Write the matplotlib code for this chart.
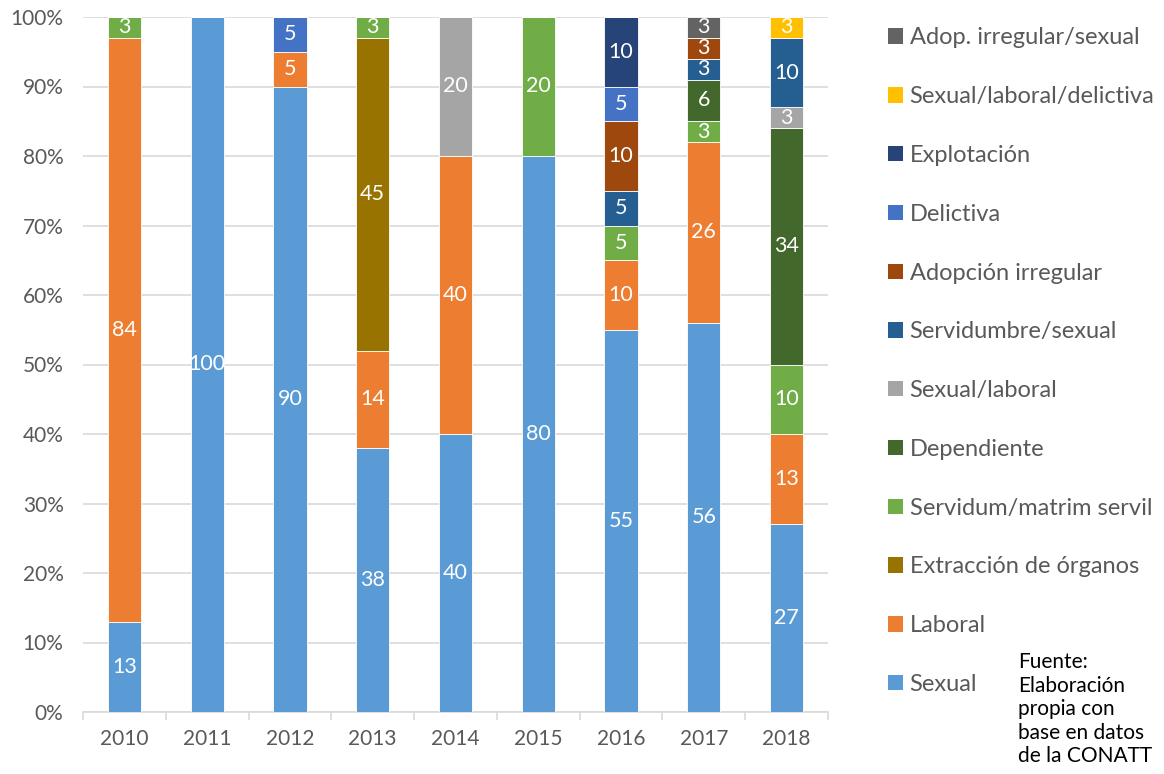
import matplotlib.pyplot as plt
import numpy as np
from matplotlib.patches import Patch

plt.rcParams['font.family'] = ['Lato', 'DejaVu Sans']

years = ["2010", "2011", "2012", "2013", "2014", "2015", "2016", "2017", "2018"]

# series, bottom to top
sexual = [13, 100, 90, 38, 40, 80, 55, 56, 27]
laboral = [84, 0, 5, 14, 40, 0, 10, 26, 13]
extraccion = [0, 0, 0, 45, 0, 0, 0, 0, 0]
servidum = [3, 0, 0, 3, 0, 20, 5, 3, 10]
dependiente = [0, 0, 0, 0, 0, 0, 0, 6, 34]
sexual_laboral = [0, 0, 0, 0, 20, 0, 0, 0, 3]
servidumbre_sexual = [0, 0, 0, 0, 0, 0, 5, 3, 10]
adopcion = [0, 0, 0, 0, 0, 0, 10, 3, 0]
delictiva = [0, 0, 5, 0, 0, 0, 5, 0, 0]
explotacion = [0, 0, 0, 0, 0, 0, 10, 0, 0]
sex_lab_del = [0, 0, 0, 0, 0, 0, 0, 0, 3]
adop_sexual = [0, 0, 0, 0, 0, 0, 0, 3, 0]

series = [
    ("Sexual", sexual, "#5B9BD5"),
    ("Laboral", laboral, "#ED7D31"),
    ("Extracción de órganos", extraccion, "#997300"),
    ("Servidum/matrim servil", servidum, "#70AD47"),
    ("Dependiente", dependiente, "#43682B"),
    ("Sexual/laboral", sexual_laboral, "#A5A5A5"),
    ("Servidumbre/sexual", servidumbre_sexual, "#255E91"),
    ("Adopción irregular", adopcion, "#9E480E"),
    ("Delictiva", delictiva, "#4472C4"),
    ("Explotación", explotacion, "#264478"),
    ("Sexual/laboral/delictiva", sex_lab_del, "#FFC000"),
    ("Adop. irregular/sexual", adop_sexual, "#636363"),
]

fig = plt.figure(figsize=(11.64, 7.74), dpi=100)
ax = fig.add_axes([83 / 1164, 62 / 774, 745 / 1164, 695 / 774])

x = np.arange(len(years))
bottom = np.zeros(len(years))
for name, vals, color in series:
    vals = np.array(vals, dtype=float)
    ax.bar(x, vals, 0.4, bottom=bottom, color=color,
           edgecolor="white", linewidth=0.6, zorder=3)
    for i, v in enumerate(vals):
        if v > 0:
            ax.text(x[i], bottom[i] + v / 2, f"{int(v)}", ha="center",
                    va="center", color="white", fontsize=15.5, zorder=4)
    bottom += vals

ax.set_xlim(-0.5, len(years) - 0.5)
ax.set_ylim(0, 100)
ax.set_yticks(np.arange(0, 101, 10))
ax.set_yticklabels([f"{v}%" for v in range(0, 101, 10)])
ax.set_xticks(x)
ax.set_xticklabels(years)
ax.set_xticks(np.arange(-0.5, len(years), 1), minor=True)
ax.tick_params(axis="x", which="major", length=0, pad=12, labelsize=15,
               labelcolor="#595959")
ax.tick_params(axis="x", which="minor", length=6, color="#D9D9D9", width=1.2)
ax.tick_params(axis="y", length=0, pad=14, labelsize=15, labelcolor="#595959")
ax.grid(axis="y", color="#D9D9D9", linewidth=1.2, zorder=0)
for s in ["top", "right", "left"]:
    ax.spines[s].set_visible(False)
ax.spines["bottom"].set_color("#D9D9D9")
ax.spines["bottom"].set_linewidth(1.2)

handles = [Patch(facecolor=c, label=n) for n, _, c in reversed(series)]
fig.legend(handles=handles, loc="upper left", bbox_to_anchor=(879 / 1164, 1 - 18 / 774),
           frameon=False, fontsize=17, labelspacing=1.60, handlelength=0.62,
           handleheight=0.62, handletextpad=0.28, labelcolor="#595959",
           borderaxespad=0)

fig.text(1018 / 1164, 1 - 652 / 774,
         "Fuente:\nElaboración\npropia con\nbase en datos\nde la CONATT",
         ha="left", va="top", fontsize=15, color="black", linespacing=1.22)

fig.savefig("out.png", dpi=100)
